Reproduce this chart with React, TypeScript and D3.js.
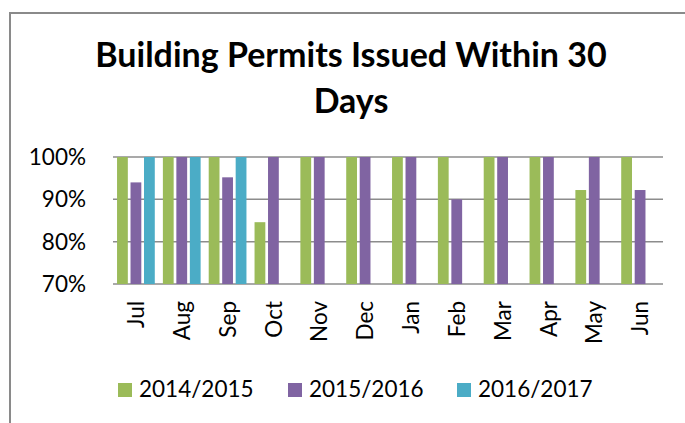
import React from "react";
import * as d3 from "d3";

const months = ["Jul", "Aug", "Sep", "Oct", "Nov", "Dec", "Jan", "Feb", "Mar", "Apr", "May", "Jun"];
const seriesNames = ["2014/2015", "2015/2016", "2016/2017"];
const fy1415 = [1.0, 1.0, 1.0, 0.846, 1.0, 1.0, 1.0, 1.0, 1.0, 1.0, 0.922, 1.0];
const fy1516 = [0.94, 1.0, 0.952, 1.0, 1.0, 1.0, 1.0, 0.9, 1.0, 1.0, 1.0, 0.922];
const fy1617 = [1.0, 1.0, 1.0, null, null, null, null, null, null, null, null, null];
const yTicks = [0.7, 0.8, 0.9, 1.0];
const colors = ["#9BBB59", "#8064A2", "#4BACC6"];
const titleLines = ["Building Permits Issued Within 30", "Days"];

const W = 685;
const H = 423;
const FONT = "Lato, 'Open Sans', sans-serif";

export default function App() {
  const series = [fy1415, fy1516, fy1617];
  const plotL = 113, plotR = 663, plotT = 157, plotB = 284;
  const x = d3.scaleBand<string>().domain(months).range([plotL, plotR]).paddingInner(0).paddingOuter(0);
  const inner = d3.scaleBand<string>().domain(seriesNames).range([0, x.bandwidth()]).paddingOuter(0.2).paddingInner(0);
  const y = d3.scaleLinear().domain([0.7, 1.0]).range([plotB, plotT]);
  const fmt = d3.format(".0%");
  const slot = inner.bandwidth();
  const barW = slot * 0.8;

  const legendX = [118, 288, 457];

  return (
    <svg width={W} height={H} style={{ position: "absolute", left: 0, top: 0, background: "#fff" }}>
      <rect x={0} y={0} width={W} height={H} fill="#fff" />
      <path d={`M10,${H + 5} V13 H${W + 5}`} fill="none" stroke="#8a8a8a" strokeWidth={2} />
      {titleLines.map((t, i) => (
        <text key={i} x={351} y={i === 0 ? 67 : 113} textAnchor="middle" fontFamily={FONT} fontWeight={700} fontSize={34} fill="#000">
          {t}
        </text>
      ))}
      {yTicks.map((t) => (
        <g key={t}>
          <line x1={plotL} x2={plotR} y1={y(t)} y2={y(t)} stroke="#8c8c8c" strokeWidth={1.5} />
          <text x={86} y={y(t)} dy="0.36em" textAnchor="end" fontFamily={FONT} fontSize={22.5} fill="#000">
            {fmt(t)}
          </text>
        </g>
      ))}
      {series.map((vals, si) =>
        vals.map((v, mi) =>
          v == null ? null : (
            <rect
              key={`${si}-${mi}`}
              x={(x(months[mi]) as number) + (inner(seriesNames[si]) as number) + (slot - barW) / 2}
              y={y(v)}
              width={barW}
              height={plotB - y(v)}
              fill={colors[si]}
            />
          )
        )
      )}
      {months.map((m) => {
        const cx = (x(m) as number) + x.bandwidth() / 2;
        return (
          <text key={m} transform={`translate(${cx},301) rotate(-90)`} textAnchor="end" dy="0.36em" fontFamily={FONT} fontSize={22.5} fill="#000">
            {m}
          </text>
        );
      })}
      {seriesNames.map((s, i) => (
        <g key={s}>
          <rect x={legendX[i]} y={383} width={14} height={14} fill={colors[i]} />
          <text x={legendX[i] + 21} y={397} fontFamily={FONT} fontSize={22.5} fill="#000">
            {s}
          </text>
        </g>
      ))}
    </svg>
  );
}
